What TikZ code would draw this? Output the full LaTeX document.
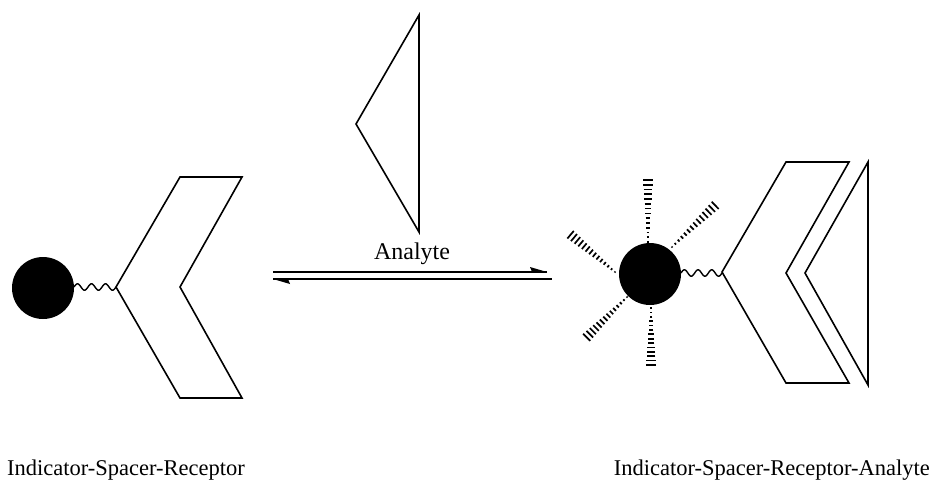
\documentclass[tikz,border=0pt]{standalone}
\usepackage{fontspec}
\setmainfont{Liberation Serif}
\usetikzlibrary{calc}
\newcommand\hashray[3]{%
  \begin{scope}[shift={#1}, rotate=#2]
    \foreach \i in {0,...,13}{
      \pgfmathsetmacro\s{#3*\i/13}
      \pgfmathsetmacro\h{0.7+4.3*\i/13}
      \draw[tickmark] (\s,-\h) -- (\s,\h);
    }
  \end{scope}}
\begin{document}
\begin{tikzpicture}[x=1pt,y=-1pt,
  outline/.style={draw=black, line width=1.6pt, line join=miter},
  spacer/.style={draw=black, line width=1.4pt},
  eqline/.style={draw=black, line width=1.5pt},
  lbl/.style={font=\fontsize{22.5}{26}\selectfont, inner sep=0pt, anchor=base west},
  indicator/.style={circle, fill=black, minimum size=62pt, inner sep=0pt},
  tickmark/.style={line width=1.7pt}]
\useasboundingbox (0,0) rectangle (931,480);

% ---- left: Indicator-Spacer-Receptor
\node[indicator] (ind1) at (43,288) {};
\coordinate (r1) at (116,287);
\draw[spacer] plot[domain=0:1, samples=80, smooth] ({74+42*\x}, {287-3.2*sin(1080*\x)});
\draw[outline] (r1) -- (180,177) -- (242,177) -- (180,287) -- (242,398) -- (180,398) -- cycle;

% ---- analyte (top)
\draw[outline] (419,15) -- (356,124) -- (419,232) -- cycle;
\node[lbl, anchor=base, font=\fontsize{24}{28}\selectfont] (alab) at (412,259) {Analyte};

% ---- equilibrium arrows
\coordinate (a1) at (273,272);
\coordinate (a2) at (547,272);
\coordinate (b1) at (273,279);
\coordinate (b2) at (552,279);
\draw[eqline] (a1) -- (a2);
\fill (a2) -- ++(-17,-5) -- ++(2,5) -- cycle;
\draw[eqline] (b1) -- (b2);
\fill (b1) -- ++(17,5) -- ++(-2,-5) -- cycle;

% ---- right: Indicator-Spacer-Receptor-Analyte
\node[indicator] (ind2) at (650,274) {};
\coordinate (r2) at (722,272);
\draw[spacer] plot[domain=0:1, samples=80, smooth] ({681+41*\x}, {273-3.2*sin(1080*\x)});
\draw[outline] (r2) -- (786,162) -- (849,162) -- (786,273) -- (849,383) -- (786,383) -- cycle;
\draw[outline] (868,162) -- (805,273) -- (868,385) -- cycle;

% rays
\hashray{(648,242)}{90}{62}
\hashray{(672,247)}{44}{60}
\hashray{(615,272)}{140}{58}
\hashray{(627,297)}{225}{57}
\hashray{(651,308)}{270}{57}

% ---- labels
\node[lbl] (lab1) at (7,475) {Indicator-Spacer-Receptor};
\node[lbl, anchor=base east] (lab2) at (930,475) {Indicator-Spacer-Receptor-Analyte};
\end{tikzpicture}
\end{document}
